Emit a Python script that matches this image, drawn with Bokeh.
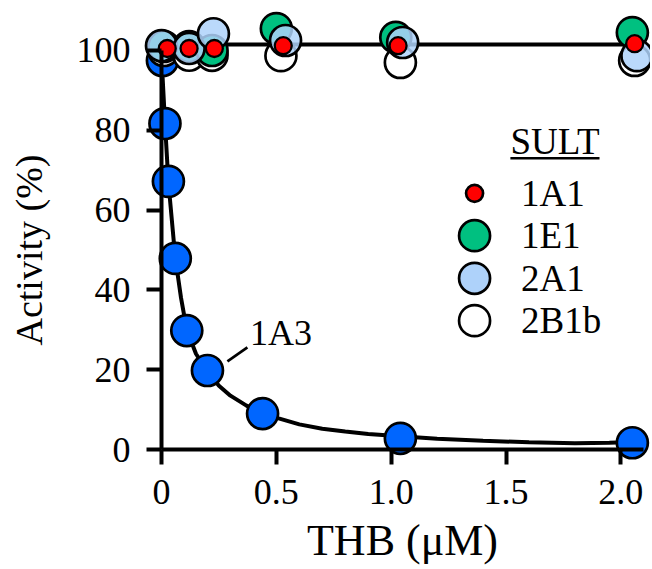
import math
from bokeh.plotting import figure
from bokeh.models import Range1d, FixedTicker, NumeralTickFormatter
from bokeh.core.properties import value
from bokeh.embed import file_html
from bokeh.resources import INLINE

FONT = "Liberation Serif"

# ---- data ----
# SULT1A3 inhibition points
x_1a3 = [0.004, 0.015, 0.03, 0.06, 0.11, 0.20, 0.44, 1.04, 2.05]
y_1a3 = [97.5, 81.7, 67.2, 47.9, 29.8, 19.8, 9.0, 2.8, 1.7]
# fitted curve for 1A3
fit_x = [0.0, 0.005, 0.015, 0.03, 0.06, 0.085, 0.11, 0.15, 0.20, 0.25, 0.30, 0.37,
         0.44, 0.51, 0.60, 0.70, 0.80, 0.90, 1.04, 1.20, 1.40, 1.60, 1.80, 1.95, 2.05]
fit_y = [100.0, 93.0, 82.0, 67.0, 48.0, 38.0, 30.0, 24.0, 19.5, 16.0, 13.5, 11.0,
         9.0, 7.8, 6.3, 5.2, 4.5, 3.9, 3.3, 2.7, 2.2, 1.8, 1.6, 1.7, 1.9]
# flat line for the uninhibited isoforms
flat_x = [0.0, 2.10]
flat_y = [101.5, 101.5]

# other isoforms
x_1a1 = [0.025, 0.12, 0.23, 0.53, 1.03, 2.06]
y_1a1 = [100.5, 100.5, 100.5, 101.2, 101.2, 101.7]
x_1e1 = [0.01, 0.12, 0.22, 0.50, 1.02, 2.05]
y_1e1 = [101.0, 101.0, 100.0, 105.5, 103.3, 104.5]
x_2a1 = [0.0, 0.12, 0.226, 0.54, 1.05, 2.07]
y_2a1 = [101.2, 100.5, 104.2, 102.5, 102.0, 98.7]
x_2b1b = [0.01, 0.12, 0.22, 0.52, 1.04, 2.06]
y_2b1b = [100.0, 98.8, 98.8, 98.7, 97.0, 97.5]

x_ticks = [0, 0.5, 1.0, 1.5, 2.0]
y_ticks = [0, 20, 40, 60, 80, 100]

legend_title = "SULT"
legend_labels = ["1A1", "1E1", "2A1", "2B1b"]
legend_colors = ["#FF0000", "#00C080", "#AED2FA", "#FFFFFF"]
legend_sizes = [17, 31, 31, 31]
legend_y = [64.2, 53.6, 42.9, 32.3]
legend_mx = 1.363
legend_tx = 1.565

C_BLUE = "#0066FF"
C_GREEN = "#00C080"
C_LBLUE = "#AED2FA"
C_RED = "#FF0000"

p = figure(width=650, height=567,
           x_range=Range1d(-0.701, 2.129), y_range=Range1d(-29.57, 112.53),
           output_backend="svg", toolbar_location=None,
           min_border_left=0, min_border_right=0,
           min_border_top=0, min_border_bottom=0)
p.outline_line_color = None
p.xgrid.visible = False
p.ygrid.visible = False
p.background_fill_color = "white"

for ax in (p.xaxis[0], p.yaxis[0]):
    ax.fixed_location = 0
    ax.axis_line_width = 4
    ax.major_tick_line_width = 4
    ax.major_tick_out = 15
    ax.major_tick_in = 0
    ax.minor_tick_out = 0
    ax.minor_tick_in = 0
    ax.major_label_text_font = FONT
    ax.major_label_text_font_size = "36px"
    ax.major_label_text_color = "black"
    ax.axis_line_color = "black"
    ax.major_tick_line_color = "black"
    ax.axis_label_text_font = FONT
    ax.axis_label_text_font_style = "normal"
    ax.axis_label_text_color = "black"

p.xaxis.ticker = FixedTicker(ticks=x_ticks)
p.xaxis.formatter = NumeralTickFormatter(format="0.0")
p.xaxis.major_label_overrides = {0: "0"}
p.xaxis.bounds = (0, 2.1)
p.xaxis.major_label_standoff = 15
p.xaxis.axis_label = "THB (\u03bcM)"
p.xaxis.axis_label_text_font_size = "44px"
p.xaxis.axis_label_standoff = 9

p.yaxis.ticker = FixedTicker(ticks=y_ticks)
p.yaxis.bounds = (0, 100)
p.yaxis.major_label_standoff = 16
p.yaxis.axis_label = "Activity (%)"
p.yaxis.axis_label_text_font_size = "38px"
p.yaxis.axis_label_standoff = 24

# lines
p.line(fit_x, fit_y, line_color="black", line_width=4)
p.line(flat_x, flat_y, line_color="black", line_width=4)

# points
BIG = 31
p.scatter(x_1a3, y_1a3, size=BIG, fill_color=C_BLUE, line_color="black", line_width=2.7)
p.scatter(x_2b1b, y_2b1b, size=BIG, fill_color="white", line_color="black", line_width=2.7)
p.scatter(x_1e1, y_1e1, size=BIG, fill_color=C_GREEN, line_color="black", line_width=2.7)
p.scatter(x_2a1, y_2a1, size=BIG, fill_color=C_LBLUE, fill_alpha=0.85, line_color="black", line_width=2.7)
p.scatter(x_1a1, y_1a1, size=17, fill_color=C_RED, line_color="black", line_width=2.3)

# legend (drawn manually)
p.scatter([legend_mx] * 4, legend_y, size=legend_sizes, fill_color=legend_colors,
          line_color="black", line_width=2.7)
p.text([legend_tx] * 4, legend_y, text=legend_labels, text_font=value(FONT),
       text_font_size="37px", text_baseline="middle", text_align="left", text_color="black")
p.text([1.713], [77.2], text=[legend_title], text_font=value(FONT), text_font_size="37px",
       text_baseline="middle", text_align="center", text_color="black")
p.line([1.519, 1.907], [73.0, 73.0], line_color="black", line_width=2.7)

# 1A3 annotation
p.line([0.287, 0.374], [22.1, 25.6], line_color="black", line_width=2.7)
p.text([0.385], [29.3], text=["1A3"], text_font=value(FONT), text_font_size="36px",
       text_baseline="middle", text_align="left", text_color="black")

open("out.html", "w").write(file_html(p, INLINE))
